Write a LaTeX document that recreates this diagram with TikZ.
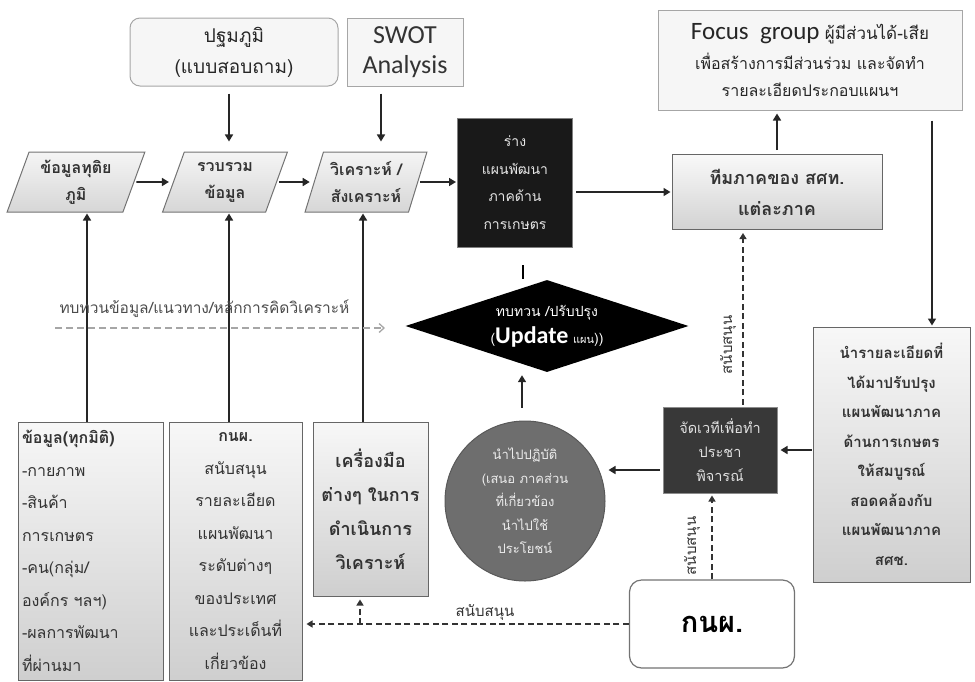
\documentclass[tikz,border=0pt]{standalone}
\usepackage{fontspec}
\usetikzlibrary{shapes.geometric,arrows.meta,calc}
\newfontfamily\thf[Script=Thai]{Loma}
\newfontfamily\lat{Carlito}
\newcommand{\fs}[2]{\fontsize{#1}{#2}\selectfont}
\begin{document}
\begin{tikzpicture}[x=1pt,y=-1pt,
  arr/.style={-{Triangle[width=8pt,length=7pt]}, line width=1.6pt, draw=black!85},
  darr/.style={dash pattern=on 6pt off 3.5pt, line width=1.4pt, draw=black!80, -{Triangle[width=7pt,length=6pt]}},
  lbox/.style={draw=black!60, line width=1pt, top color=gray!6, bottom color=gray!38, inner sep=3pt},
  tbox/.style={draw=black!35, line width=1pt, fill=gray!7, inner sep=3pt},
  para/.style={trapezium, trapezium left angle=70, trapezium right angle=110, trapezium stretches=true,
     draw=black!55, line width=1pt, top color=gray!8, bottom color=gray!32, minimum height=60, inner sep=2pt,
     align=center, text=black!80, font=\thf\bfseries\fs{16}{27}},
  dark/.style={draw=black!50, line width=1pt, inner sep=3pt, align=center},
  lab/.style={font=\thf\fs{15}{16}, text=black!80, inner sep=1pt}
]
\useasboundingbox (0,0) rectangle (975,681);

% top boxes
\node[tbox, rounded corners=10, minimum width=208, minimum height=68, align=center, font=\thf\fs{19}{31}, text=black!85] (prim) at (234,52) {ปฐมภูมิ\\(แบบสอบถาม)};
\node[tbox, minimum width=116, minimum height=68, align=center, font=\lat\fs{26}{30}, text=black!80] (swot) at (405,52) {SWOT\\Analysis};
\node[tbox, minimum width=304, minimum height=100, align=center, font=\thf\fs{16}{27}, text=black!85] (focus) at (810,60)
  {{\lat\fs{25}{27}Focus\ \ group} {\fs{17}{27}ผู้มีส่วนได้-เสีย}\\[3pt] เพื่อสร้างการมีส่วนร่วม และจัดทำ\\ รายละเอียดประกอบแผนฯ};

% parallelograms
\node[para, minimum width=138] (p1) at (76,182) {ข้อมูลทุติย\\ภูมิ};
\node[para, minimum width=126] (p2) at (225,182) {รวบรวม\\ข้อมูล};
\node[para, minimum width=122] (p3) at (366,182) {วิเคราะห์ /\\สังเคราะห์};

% draft
\node[dark, fill=black!90, minimum width=115, minimum height=129, text=white!90!black, font=\thf\fs{14}{27.5}] (draft) at (515,182.5) {ร่าง\\แผนพัฒนา\\ภาคด้าน\\การเกษตร};

% team
\node[lbox, top color=gray!5, bottom color=gray!35, minimum width=210, minimum height=75, align=center, font=\thf\bfseries\fs{18}{31}, text=black!80] (team) at (777,192) {ทีมภาคของ สศท.\\แต่ละภาค};

% detail
\node[lbox, minimum width=157, minimum height=255, align=center, font=\thf\bfseries\fs{15}{29.5}, text=black!80] (detail) at (891.5,454.5)
 {นำรายละเอียดที่\\ได้มาปรับปรุง\\แผนพัฒนาภาค\\ด้านการเกษตร\\ให้สมบูรณ์\\สอดคล้องกับ\\แผนพัฒนาภาค\\สศช.};

% forum
\node[dark, fill=black!78, draw=black!45, minimum width=114, minimum height=86, text=white!88!black, font=\thf\fs{14.5}{24}] (forum) at (720,450) {จัดเวทีเพื่อทำ\\ประชา\\พิจารณ์};

% diamond
\node[diamond, aspect=3, fill=black, minimum width=283, minimum height=92, inner sep=0pt, align=center, text=white, font=\thf\fs{14}{26}] (dia) at (547,326)
 {ทบทวน /ปรับปรุง\\[1pt]({\lat\bfseries\fs{24}{26}Update} {\fs{11}{26}แผน}))};

% circle
\node[circle, fill=black!57, draw=black!65, line width=1pt, minimum size=160, inner sep=0pt, align=center, text=gray!15, font=\thf\fs{13}{23.5}] (circ) at (525,501)
 {นำไปปฏิบัติ\\(เสนอ ภาคส่วน\\ที่เกี่ยวข้อง\\นำไปใช้\\ประโยชน์};

% knp
\node[draw=black!55, line width=1.2pt, rounded corners=12, fill=white, minimum width=165, minimum height=88, font=\thf\bfseries\fs{29}{34}] (knp) at (712,624) {กนผ.};

% bottom boxes
\node[lbox, minimum width=145, minimum height=258, text width=137, align=left, font=\thf\fs{16}{32.5}, text=black!80] (b1) at (90.5,551)
 {\textbf{ข้อมูล(ทุกมิติ)}\\-กายภาพ\\-สินค้า\\การเกษตร\\-คน(กลุ่ม/\\องค์กร ฯลฯ)\\-ผลการพัฒนา\\ที่ผ่านมา};
\node[lbox, minimum width=133, minimum height=258, align=center, font=\thf\fs{16}{32.5}, text=black!80] (b2) at (235.5,551)
 {\textbf{กนผ.}\\สนับสนุน\\รายละเอียด\\แผนพัฒนา\\ระดับต่างๆ\\ของประเทศ\\และประเด็นที่\\เกี่ยวข้อง};
\node[lbox, minimum width=115, minimum height=174, align=center, font=\thf\bfseries\fs{18}{34}, text=black!80] (b3) at (370.5,509)
 {เครื่องมือ\\ต่างๆ ในการ\\ดำเนินการ\\วิเคราะห์};

% connectors top
\draw[arr, shorten <=7pt, shorten >=10pt] (229,0 |- prim.south) -- (229,0 |- p2.north);
\draw[arr, shorten <=7pt, shorten >=10pt] (381,0 |- swot.south) -- (381,0 |- p3.north);
\draw[arr, shorten <=2pt, shorten >=4pt] (p1.east) -- (p2.west);
\draw[arr, shorten <=2pt, shorten >=4pt] (p2.east) -- (p3.west);
\draw[arr, shorten <=2pt, shorten >=1pt] (p3.east) -- (draft.west |- p3.east);
\draw[arr, shorten <=3pt, shorten >=1pt] (draft.east |- team.west) -- (team.west);
\draw[arr, shorten <=4pt, shorten >=3pt] (team.north) -- (team.north |- focus.south);
\draw[arr, shorten <=10pt, shorten >=1pt] (932,0 |- focus.south) -- (932,0 |- detail.north);
\draw[arr, shorten <=1pt, shorten >=3pt] (detail.west |- forum.east) -- (forum.east);
\draw[arr, shorten <=3pt, shorten >=3pt] ([yshift=-20pt]forum.west) -- ([yshift=-20pt]forum.west -| circ.east);
\draw[arr, shorten <=13pt, shorten >=3pt] (522,0 |- circ.north) -- (522,0 |- dia.south);

% stub
\coordinate (s1) at (523,265);
\coordinate (s2) at (523,279);
\draw[line width=2.5pt] (s1) -- (s2);

% bottom boxes up
\draw[arr, shorten >=1pt] (87,0 |- b1.north) -- (87,0 |- p1.south);
\draw[arr, shorten >=1pt] (229,0 |- b2.north) -- (229,0 |- p2.south);
\draw[arr, shorten >=1pt] (363,0 |- b3.north) -- (363,0 |- p3.south);

% gray dashed
\coordinate (g1) at (55,328);
\coordinate (g2) at (385,328);
\draw[dash pattern=on 7pt off 4pt, line width=1.3pt, draw=gray!70, -{Straight Barb[width=9pt,length=5pt]}] (g1) -- (g2);
\node[font=\thf\fs{15.5}{16}, text=black!70, anchor=base west] at (56,313) {ทบทวนข้อมูล/แนวทาง/หลักการคิดวิเคราะห์};

% dashed supports
\draw[darr, shorten <=2pt, shorten >=3pt] (743,0 |- forum.north) -- (743,0 |- team.south);
\node[lab, rotate=90] at (728,345) {สนับสนุน};
\draw[darr, shorten >=2pt] (712,0 |- knp.north) -- (712,0 |- forum.south);
\node[lab, rotate=90] at (692,546) {สนับสนุน};
\draw[darr, shorten >=4pt] (knp.west) -- (b2.east |- knp.west);
\draw[darr, shorten >=3pt] (360,0 |- knp.west) -- (360,0 |- b3.south);
\node[lab, anchor=base] at (485,616) {สนับสนุน};
\end{tikzpicture}
\end{document}
